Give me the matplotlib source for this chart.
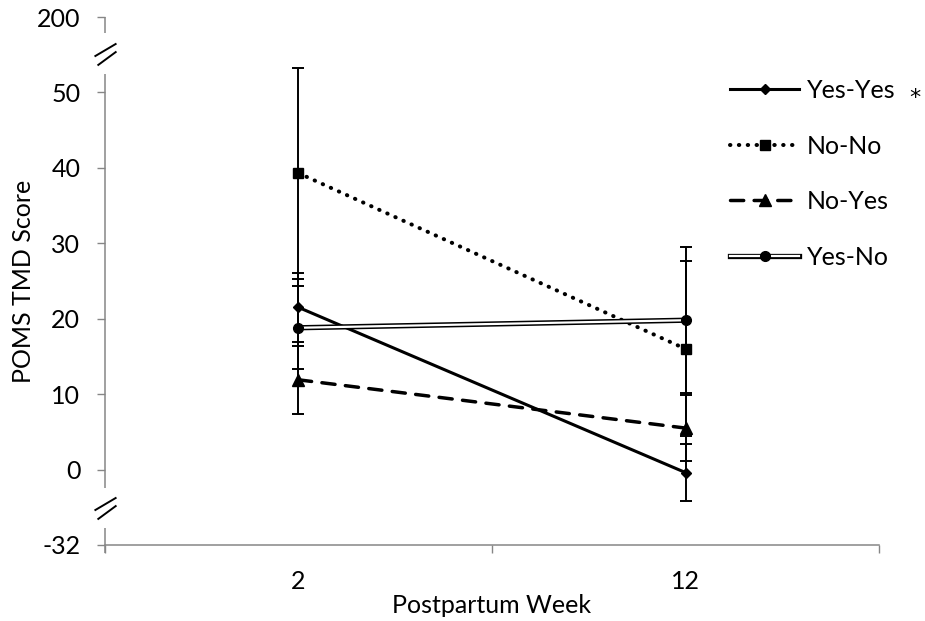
import numpy as np
import matplotlib
matplotlib.use("Agg")
from matplotlib import pyplot as plt
from matplotlib.path import Path
from matplotlib.legend_handler import HandlerTuple
import matplotlib.transforms as mtransforms

plt.rcParams["font.family"] = ["Lato", "DejaVu Sans"]
plt.rcParams["font.size"] = 18

weeks = ["2", "12"]

yes_yes = [21.5, -0.4]
yes_yes_err = [4.6, 3.8]

no_no = [39.3, 16.0]
no_no_err = [14.0, 11.6]

no_yes = [11.9, 5.5]
no_yes_err = [4.5, 4.4]

yes_no = [18.8, 19.8]
yes_no_err = [5.5, 9.7]

# axis runs -10..60, the two end ticks carry the "broken" labels
y_ticks = [-10, 0, 10, 20, 30, 40, 50, 60]
y_tick_labels = ["-32", "0", "10", "20", "30", "40", "50", "200"]

grey = "#868686"

fig = plt.figure(figsize=(9.25, 6.21), dpi=100)
ax = fig.add_axes([0.1135, 0.1224, 0.8368, 0.8502])
ax.set_ylim(y_ticks[0], y_ticks[-1])
ax.set_xlim(0, len(weeks))

x = np.arange(len(weeks)) + 0.5

for vals, errs in [(no_no, no_no_err), (yes_yes, yes_yes_err),
                   (yes_no, yes_no_err), (no_yes, no_yes_err)]:
    ax.errorbar(x, vals, yerr=errs, fmt="none", ecolor="black",
                elinewidth=1.4, capsize=4.3, capthick=1.4, zorder=2)

h_yy, = ax.plot(x, yes_yes, color="black", lw=2.2, marker="D", ms=5.5,
                zorder=3)
h_nn, = ax.plot(x, no_no, color="black", lw=2.9, ls=(0, (0.1, 2.1)),
                dash_capstyle="round", marker="s", ms=6.8, zorder=3)
h_ny, = ax.plot(x, no_yes, color="black", lw=2.5, ls=(0, (3.8, 3.0)),
                dash_capstyle="round", marker="^", ms=8, zorder=3)
yn_outer, = ax.plot(x, yes_no, color="black", lw=3.8, zorder=3)
yn_inner, = ax.plot(x, yes_no, color="white", lw=1.6, zorder=3)
yn_dots, = ax.plot(x, yes_no, ls="none", marker="o", ms=7, color="black",
                   zorder=3)

ax.legend(
    [h_yy, h_nn, h_ny, (yn_outer, yn_inner, yn_dots)],
    ["Yes-Yes", "No-No", "No-Yes", "Yes-No"],
    handler_map={tuple: HandlerTuple(ndivide=1)},
    loc="upper left",
    bbox_to_anchor=(0.8075, 0.8825),
    frameon=False,
    handlelength=2.76,
    handletextpad=0.32,
    labelspacing=1.3,
    borderaxespad=0,
    borderpad=0,
)

bt = mtransforms.blended_transform_factory(ax.transAxes, ax.transData)
ax.text(1.0465, 49.2, "*", transform=bt, ha="center", va="center",
        family="DejaVu Sans", fontsize=16)

# axis lines, left one with two gaps
for side in ["top", "right", "left"]:
    ax.spines[side].set_visible(False)
ax.spines["bottom"].set_color(grey)
ax.spines["bottom"].set_linewidth(1.1)

for lo, hi in [(57.9, 60), (-2.4, 52.5), (-11.1, -7.8)]:
    ax.plot([0, 0], [lo, hi], transform=bt, color=grey, lw=1.1,
            clip_on=False, solid_capstyle="butt")

break_mark = Path([(-11, -2), (11, 11), (-8, -11), (11, 3)],
                  [Path.MOVETO, Path.LINETO, Path.MOVETO, Path.LINETO])
ax.plot([0, 0], [55.1, -5.1], ls="none", marker=break_mark, ms=15.8,
        mec="black", mew=1.4, transform=bt, clip_on=False)

ax.set_yticks(y_ticks)
ax.set_yticklabels(y_tick_labels)
ax.tick_params(axis="y", direction="out", length=5.8, width=1, color=grey,
               pad=12)

ax.set_xticks(x)
ax.set_xticklabels(weeks)
ax.set_xticks(np.arange(len(weeks) + 1), minor=True)
ax.tick_params(axis="x", which="major", length=0, pad=18)
ax.tick_params(axis="x", which="minor", direction="out", length=5.8,
               width=1, color=grey)

ax.set_ylabel("POMS TMD Score")
ax.yaxis.set_label_coords((24 - 105) / 774, 0.5)
ax.yaxis.label.set_va("center")
ax.set_xlabel("Postpartum Week")
ax.xaxis.set_label_coords(0.5, (545 - 613) / 528)
ax.xaxis.label.set_va("baseline")

fig.savefig("out.png", dpi=100)
